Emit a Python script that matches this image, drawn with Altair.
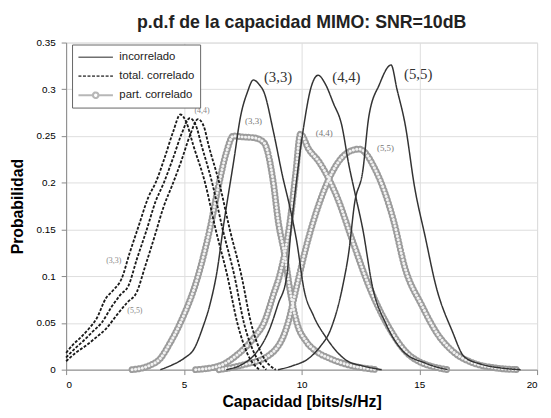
import altair as alt
import pandas as pd

# ---- incorrelado (solid) ----
inc33_x = [4.0, 4.5, 5.0, 5.45, 5.8, 6.1, 6.4, 6.7, 7.14, 7.4, 7.7, 7.95, 8.2, 8.4, 8.8, 9.2, 9.5, 9.8, 10.1, 10.5, 11.05, 11.9, 12.6, 13.4]
inc33_y = [0.0, 0.005, 0.012, 0.023, 0.045, 0.069, 0.104, 0.157, 0.227, 0.27, 0.297, 0.31, 0.305, 0.297, 0.255, 0.206, 0.174, 0.136, 0.086, 0.058, 0.034, 0.01, 0.004, 0.0]
inc44_x = [6.8, 7.5, 8.0, 8.65, 9.0, 9.37, 9.55, 9.75, 10.1, 10.4, 10.7, 11.0, 11.35, 11.7, 12.0, 12.3, 12.6, 13.0, 13.6, 14.3, 15.25, 16.2]
inc44_y = [0.0, 0.006, 0.016, 0.044, 0.07, 0.1, 0.15, 0.195, 0.262, 0.302, 0.315, 0.306, 0.285, 0.262, 0.22, 0.185, 0.15, 0.09, 0.048, 0.02, 0.007, 0.0]
inc55_x = [9.0, 9.6, 10.35, 10.8, 11.2, 11.75, 12.0, 12.25, 12.6, 12.85, 13.3, 13.8, 14.05, 14.4, 14.8, 15.25, 15.7, 16.4, 16.9, 17.6, 18.4, 19.3]
inc55_y = [0.0, 0.004, 0.013, 0.025, 0.041, 0.09, 0.125, 0.178, 0.213, 0.27, 0.305, 0.326, 0.3, 0.262, 0.195, 0.142, 0.09, 0.041, 0.014, 0.006, 0.002, 0.0]

# ---- total. correlado (dashed) ----
tc33_x = [0.0, 0.3, 0.6, 0.97, 1.3, 1.68, 2.0, 2.35, 2.7, 3.07, 3.5, 3.8, 4.2, 4.55, 4.85, 5.1, 5.4, 5.9, 6.35, 6.85, 7.27, 7.7, 8.2]
tc33_y = [0.018, 0.027, 0.034, 0.044, 0.055, 0.076, 0.085, 0.097, 0.125, 0.153, 0.185, 0.2, 0.228, 0.255, 0.273, 0.265, 0.24, 0.2, 0.15, 0.1, 0.05, 0.017, 0.0]
tc44_x = [0.0, 0.35, 0.7, 1.1, 1.5, 1.95, 2.3, 2.65, 3.0, 3.4, 3.8, 4.15, 4.55, 4.9, 5.25, 5.5, 5.75, 6.2, 6.65, 7.15, 7.55, 8.0, 8.5]
tc44_y = [0.013, 0.022, 0.03, 0.04, 0.05, 0.068, 0.08, 0.09, 0.118, 0.148, 0.18, 0.2, 0.227, 0.252, 0.269, 0.262, 0.24, 0.2, 0.15, 0.1, 0.05, 0.017, 0.0]
tc55_x = [0.0, 0.4, 0.8, 1.25, 1.7, 2.2, 2.6, 3.0, 3.35, 3.75, 4.15, 4.5, 4.9, 5.25, 5.6, 5.85, 6.05, 6.5, 6.95, 7.45, 7.85, 8.3, 8.9]
tc55_y = [0.009, 0.018, 0.025, 0.034, 0.044, 0.06, 0.072, 0.083, 0.11, 0.142, 0.175, 0.197, 0.224, 0.25, 0.268, 0.26, 0.24, 0.2, 0.15, 0.1, 0.05, 0.017, 0.0]

# ---- part. correlado (circles) ----
pc33_x = [2.8, 3.5, 4.0, 4.4, 4.85, 5.6, 6.1, 6.5, 6.8, 7.1, 7.5, 8.0, 8.4, 8.8, 9.0, 9.3, 9.5, 9.8, 10.2, 10.6, 11.2, 12.0, 13.2]
pc33_y = [0.0, 0.004, 0.012, 0.028, 0.05, 0.1, 0.15, 0.2, 0.232, 0.25, 0.249, 0.248, 0.243, 0.2, 0.16, 0.12, 0.086, 0.05, 0.03, 0.02, 0.012, 0.005, 0.0]
pc44_x = [5.5, 6.5, 7.27, 8.0, 8.4, 8.8, 9.1, 9.5, 9.75, 9.95, 10.3, 10.75, 11.5, 12.2, 12.85, 13.6, 14.7, 16.2]
pc44_y = [0.0, 0.004, 0.016, 0.035, 0.05, 0.08, 0.104, 0.157, 0.21, 0.252, 0.236, 0.222, 0.185, 0.135, 0.09, 0.05, 0.013, 0.0]
pc55_x = [6.5, 7.5, 8.65, 9.4, 9.8, 10.2, 10.75, 11.5, 12.0, 12.45, 13.15, 13.9, 14.4, 15.1, 15.8, 16.4, 17.3, 18.2, 19.2]
pc55_y = [0.0, 0.005, 0.016, 0.048, 0.09, 0.132, 0.178, 0.22, 0.233, 0.236, 0.213, 0.16, 0.108, 0.069, 0.037, 0.02, 0.007, 0.002, 0.0]

series = ["incorrelado", "total. correlado", "part. correlado"]

curves = [
    ("incorrelado", "inc33", inc33_x, inc33_y),
    ("incorrelado", "inc44", inc44_x, inc44_y),
    ("incorrelado", "inc55", inc55_x, inc55_y),
    ("total. correlado", "tc33", tc33_x, tc33_y),
    ("total. correlado", "tc44", tc44_x, tc44_y),
    ("total. correlado", "tc55", tc55_x, tc55_y),
    ("part. correlado", "pc33", pc33_x, pc33_y),
    ("part. correlado", "pc44", pc44_x, pc44_y),
    ("part. correlado", "pc55", pc55_x, pc55_y),
]
rows = []
for serie, cid, xs, ys in curves:
    for xv, yv in zip(xs, ys):
        rows.append({"x": xv, "y": yv, "serie": serie, "curva": cid})
df = pd.DataFrame(rows)

# annotation labels
big_txt = ["(3,3)", "(4,4)", "(5,5)"]
big_x = [8.4, 11.3, 14.35]
big_y = [0.313, 0.313, 0.316]
mid_txt = ["(3,3)", "(4,4)", "(5,5)"]
mid_x = [7.6, 10.6, 13.2]
mid_y = [0.266, 0.253, 0.237]
small_txt = ["(3,3)", "(5,5)", "(4,4)"]
small_x = [1.7, 2.6, 5.45]
small_y = [0.116, 0.063, 0.277]

big = pd.DataFrame({"t": big_txt, "x": big_x, "y": big_y})
mid = pd.DataFrame({"t": mid_txt, "x": mid_x, "y": mid_y})
small = pd.DataFrame({"t": small_txt, "x": small_x, "y": small_y})

FONT = "Liberation Sans"

xs_scale = alt.Scale(domain=[0, 20], nice=False)
ys_scale = alt.Scale(domain=[0, 0.35], nice=False)

x_enc = alt.X("x:Q", scale=xs_scale,
              axis=alt.Axis(values=[0, 5, 10, 15, 20], title="Capacidad [bits/s/Hz]",
                            labelPadding=5, titlePadding=4, titleFontSize=16))
y_enc = alt.Y("y:Q", scale=ys_scale,
              axis=alt.Axis(values=[0, 0.05, 0.1, 0.15, 0.2, 0.25, 0.3, 0.35],
                            labelExpr="format(datum.value, '.2~f')",
                            title="Probabilidad", labelPadding=6, titlePadding=11,
                            titleFontSize=16))

legend = alt.Legend(title=None, orient="none", legendX=6, legendY=2,
                    fillColor="white", strokeColor="#666", padding=5,
                    symbolType="M-1,0H4", symbolSize=196, symbolStrokeWidth=1.8,
                    labelOffset=26, labelFont=FONT, labelFontSize=11.5,
                    labelColor="#222", rowPadding=5)

line_sym = "M-1,0H4"
circ_sym = "M-1,0H1.1 M1.9,0H4 M1.9,0A0.4,0.4 0 1 1 1.1,0A0.4,0.4 0 1 1 1.9,0"

base = alt.Chart(df)
part = base.transform_filter(alt.datum.serie == "part. correlado")

ring_outer = part.mark_line(color="#9c9c9c", strokeWidth=7, strokeDash=[0.1, 3.4],
                            strokeCap="round", interpolate="monotone").encode(
    x=x_enc, y=y_enc, detail="curva:N")
ring_inner = part.mark_line(color="#f2f2f2", strokeWidth=3, strokeDash=[0.1, 3.4],
                            strokeCap="round", interpolate="monotone").encode(
    x="x:Q", y="y:Q", detail="curva:N")

lines = base.transform_filter(alt.datum.serie != "part. correlado").mark_line(
    interpolate="monotone").encode(
    x="x:Q", y="y:Q", detail="curva:N",
    color=alt.Color("serie:N", scale=alt.Scale(domain=series, range=["#333333", "#1a1a1a", "#9a9a9a"]),
                    legend=legend),
    strokeDash=alt.StrokeDash("serie:N", scale=alt.Scale(domain=series, range=[[1, 0], [3, 1.6], [1, 0]]),
                              legend=legend),
    strokeWidth=alt.StrokeWidth("serie:N", scale=alt.Scale(domain=series, range=[1.5, 2.2, 1.5]),
                                legend=None),
)

# empty point layer that only feeds the legend's symbol shapes
legend_shapes = base.transform_filter(alt.datum.serie == "__none__").mark_point(filled=False).encode(
    x="x:Q", y="y:Q",
    shape=alt.Shape("serie:N", scale=alt.Scale(domain=series, range=[line_sym, line_sym, circ_sym]),
                    legend=legend),
)

big_lbl = alt.Chart(big).mark_text(font="Liberation Serif", fontSize=15, color="#333",
                                   align="left", baseline="middle").encode(x="x:Q", y="y:Q", text="t:N")
mid_lbl = alt.Chart(mid).mark_text(font="Liberation Serif", fontSize=9, color="#777",
                                   align="left", baseline="middle").encode(x="x:Q", y="y:Q", text="t:N")
small_lbl = alt.Chart(small).mark_text(font="Liberation Serif", fontSize=8, color="#888",
                                       align="left", baseline="middle").encode(x="x:Q", y="y:Q", text="t:N")

chart = alt.layer(ring_outer, ring_inner, lines, legend_shapes, big_lbl, mid_lbl, small_lbl).properties(
    width=478, height=332,
    autosize=alt.AutoSizeParams(type="none"),
    padding={"left": 59, "top": 32, "right": 6, "bottom": 46},
    title=alt.Title("p.d.f de la capacidad MIMO: SNR=10dB", font=FONT, fontSize=18,
                    fontWeight="bold", color="#222", offset=6, anchor="middle"),
).configure_view(stroke="#8a8a8a", strokeWidth=1).configure_axis(
    grid=True, gridColor="#cfcfcf", gridDash=[2, 2], domain=False, ticks=False,
    labelFont=FONT, labelFontSize=11, labelColor="#444",
    titleFont=FONT, titleFontWeight="bold", titleColor="#222",
).configure(background="white")

chart.save("out.html", embed_options={"renderer": "svg", "actions": False})
